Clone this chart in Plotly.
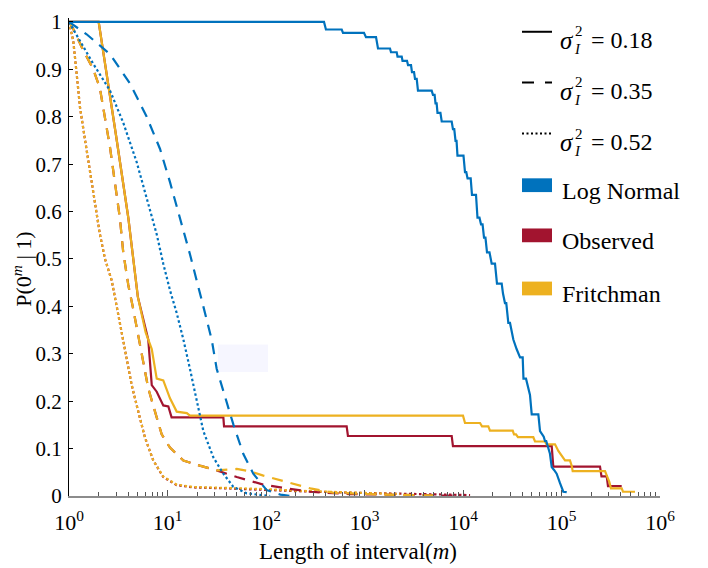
import plotly.graph_objects as go

# ---------------- data ----------------
# sigma_I^2 = 0.18 (solid)
lognormal_018_m = [1, 388, 406, 587, 605, 988, 1035, 1309, 1371, 1815, 1858, 2123, 2163, 2386, 2432, 2700,
                   2766, 2966, 3034, 3183, 3257, 3388, 3491, 4809, 4955, 5150, 5260, 5400, 5508, 5900, 6081,
                   7677, 7907, 8150, 8395, 8600, 8790, 10115, 10478, 10800, 11127, 11970, 12340, 13550, 14030,
                   14700, 15240, 15800, 16340, 16900, 17530, 18580, 19550, 21130, 22130, 24710, 25470, 26670,
                   27500, 28840, 30000, 32430, 35000, 37930, 40360, 41110, 43620, 47860, 49860, 58210, 60530,
                   66000, 67950, 70000, 76350, 79550, 84000, 89310, 96570, 104300, 112900]
lognormal_018_p = [1.0, 1.0, 0.984, 0.984, 0.977, 0.977, 0.968, 0.968, 0.944, 0.944, 0.936, 0.936, 0.927, 0.927,
                   0.918, 0.918, 0.909, 0.909, 0.894, 0.894, 0.880, 0.880, 0.855, 0.855, 0.846, 0.846, 0.828,
                   0.828, 0.808, 0.808, 0.790, 0.790, 0.774, 0.774, 0.749, 0.749, 0.718, 0.718, 0.683, 0.683,
                   0.670, 0.670, 0.635, 0.635, 0.587, 0.587, 0.573, 0.573, 0.545, 0.545, 0.514, 0.514, 0.490,
                   0.490, 0.448, 0.448, 0.427, 0.407, 0.407, 0.365, 0.365, 0.330, 0.310, 0.2925, 0.2925, 0.2475,
                   0.2475, 0.213, 0.172, 0.172, 0.137, 0.125, 0.116, 0.116, 0.089, 0.061, 0.055, 0.047, 0.027,
                   0.009, 0.008]

observed_018_m = [1, 2, 3, 4, 5, 6, 6.38, 6.92, 7.77, 9.06, 10.2, 11, 36.9, 37.5, 659, 679, 7677, 7907,
                  79550, 82530, 246000, 254700, 287700, 296500, 408400]
observed_018_p = [1.0, 1.0, 0.761, 0.587, 0.42, 0.35, 0.33, 0.234, 0.22, 0.191, 0.189, 0.166, 0.166, 0.147,
                  0.147, 0.1266, 0.1266, 0.105, 0.105, 0.062, 0.062, 0.0415, 0.0415, 0.021, 0.021]

fritchman_018_m = [1, 2, 3, 4, 5, 6, 6.92, 7.77, 9.06, 10.6, 12.4, 15.7, 16.9, 10000, 10480, 14890, 15590,
                   18070, 18790, 31970, 32960, 34500, 36140, 51730, 53830, 67950, 70440, 85920, 92850, 100400,
                   108600, 121900, 126900, 129900, 276700, 287700, 305800, 318000, 408400, 421000, 557400]
fritchman_018_p = [1.0, 1.0, 0.761, 0.587, 0.42, 0.345, 0.31, 0.2475, 0.244, 0.206, 0.178, 0.175, 0.1695,
                   0.1695, 0.154, 0.154, 0.147, 0.147, 0.138, 0.138, 0.130, 0.130, 0.124, 0.124, 0.115, 0.115,
                   0.109, 0.109, 0.095, 0.085, 0.075, 0.075, 0.064, 0.0525, 0.0525, 0.0436, 0.0297, 0.016,
                   0.016, 0.009, 0.009]

# sigma_I^2 = 0.35 (dashed)
lognormal_035_m = [1, 1.51, 2.61, 4.16, 6.15, 8.4, 10.6, 12.9, 16.9, 23.1, 28.1, 31.6, 36.9, 46.6, 58.9,
                   74.3, 101.6, 140, 174]
lognormal_035_p = [1.0, 0.974, 0.932, 0.87, 0.80, 0.732, 0.662, 0.60, 0.51, 0.40, 0.33, 0.268, 0.22, 0.151,
                   0.0885, 0.047, 0.0124, 0.003, 0.0]

observed_035_m = [1, 1.105, 1.397, 1.765, 2.06, 2.32, 2.61, 2.93, 3.29, 3.55, 4.0, 4.5, 5.05, 5.67, 6.38,
                  7.47, 8.73, 10.6, 14.5, 21.3, 31.6, 50.5, 94.0, 163.7, 281.6, 705, 2280, 9300]
observed_035_p = [1.0, 0.985, 0.94, 0.90, 0.86, 0.80, 0.735, 0.66, 0.585, 0.515, 0.445, 0.393, 0.337, 0.282,
                  0.227, 0.178, 0.13, 0.102, 0.075, 0.064, 0.054, 0.040, 0.024, 0.016, 0.009, 0.004, 0.002,
                  0.0005]

fritchman_035_m = [1, 1.105, 1.397, 1.765, 2.06, 2.32, 2.61, 2.93, 3.29, 3.55, 4.0, 4.5, 5.05, 5.67, 6.38,
                   7.47, 8.73, 10.6, 14.5, 21.3, 31.6, 50.5, 68.9, 94.0, 163.7, 281.6, 479, 1440, 5800]
fritchman_035_p = [1.0, 0.985, 0.94, 0.90, 0.86, 0.80, 0.735, 0.66, 0.585, 0.515, 0.445, 0.393, 0.337, 0.282,
                   0.227, 0.178, 0.13, 0.102, 0.075, 0.064, 0.054, 0.057, 0.052, 0.043, 0.030, 0.016, 0.007,
                   0.003, 0.001]

# sigma_I^2 = 0.52 (dotted)
lognormal_052_m = [1, 1.29, 1.77, 2.61, 3.56, 4.87, 6.15, 7.77, 9.06, 10.6, 12.4, 14.5, 16.9, 19.8, 23.1,
                   29.2, 36.9, 46.6, 63.7, 110]
lognormal_052_p = [1.0, 0.96, 0.911, 0.855, 0.787, 0.704, 0.628, 0.552, 0.49, 0.434, 0.386, 0.33, 0.268,
                   0.199, 0.137, 0.0815, 0.047, 0.0193, 0.0056, 0.0]

observed_052_m = [1, 1.105, 1.197, 1.293, 1.453, 1.633, 1.836, 2.06, 2.32, 2.71, 3.05, 3.43, 3.85, 4.33,
                  5.05, 5.91, 7.17, 9.06, 12.4, 18.3, 39.9, 87, 220, 707, 2300, 11800]
observed_052_p = [1.0, 0.96, 0.89, 0.82, 0.752, 0.683, 0.614, 0.552, 0.50, 0.455, 0.40, 0.344, 0.289, 0.234,
                  0.178, 0.123, 0.075, 0.040, 0.023, 0.018, 0.016, 0.013, 0.010, 0.007, 0.005, 0.002]

fritchman_052_m = [1, 1.105, 1.197, 1.293, 1.453, 1.633, 1.836, 2.06, 2.32, 2.71, 3.05, 3.43, 3.85, 4.33,
                   5.05, 5.91, 7.17, 9.06, 12.4, 18.3, 39.9, 87, 220, 707, 2300]
fritchman_052_p = [1.0, 0.96, 0.89, 0.82, 0.752, 0.683, 0.614, 0.552, 0.50, 0.455, 0.40, 0.344, 0.289, 0.234,
                   0.178, 0.123, 0.075, 0.041, 0.024, 0.019, 0.017, 0.015, 0.011, 0.007, 0.004]

x_tick_vals = [1, 10, 100, 1000, 10000, 100000, 1000000]
x_tick_text = ["10<sup>0</sup>", "10<sup>1</sup>", "10<sup>2</sup>", "10<sup>3</sup>",
               "10<sup>4</sup>", "10<sup>5</sup>", "10<sup>6</sup>"]
y_tick_vals = [0, 0.1, 0.2, 0.3, 0.4, 0.5, 0.6, 0.7, 0.8, 0.9, 1]
y_tick_text = ["0", "0.1", "0.2", "0.3", "0.4", "0.5", "0.6", "0.7", "0.8", "0.9", "1"]

variance_labels = ["0.18", "0.35", "0.52"]
model_names = ["Log Normal", "Observed", "Fritchman"]

# ---------------- style ----------------
BLUE = "#0072BD"
RED = "#A2142F"
YELLOW = "#EDB120"
FONT = "Liberation Serif"
DASH = "11px,8px"
DOT = "2.5px,2.5px"

OFF = 8                      # page body margin in the browser
W, H = 708 - OFF, 568 - OFF
L, T = 69 - OFF, 10 - OFF
PW, PH = 591, 486
R, B = W - L - PW, H - T - PH


def px(x):
    return (x - OFF - L) / PW


def py(y):
    return (T + PH - (y - OFF)) / PH


fig = go.Figure()


def add(xs, ys, color, dash, width):
    fig.add_trace(go.Scatter(x=xs, y=ys, mode="lines", showlegend=False, hoverinfo="skip",
                             line=dict(color=color, dash=dash, width=width)))


add(observed_052_m, observed_052_p, RED, DOT, 2.2)
add(fritchman_052_m, fritchman_052_p, YELLOW, DOT, 2.2)
add(observed_035_m, observed_035_p, RED, DASH, 2.2)
add(fritchman_035_m, fritchman_035_p, YELLOW, DASH, 2.2)
add(observed_018_m, observed_018_p, RED, "solid", 2.2)
add(fritchman_018_m, fritchman_018_p, YELLOW, "solid", 2.2)
add(lognormal_052_m, lognormal_052_p, BLUE, DOT, 2.2)
add(lognormal_035_m, lognormal_035_p, BLUE, DASH, 2.2)
add(lognormal_018_m, lognormal_018_p, BLUE, "solid", 2.2)

shapes = []
annotations = []

# faint artefact rectangle
shapes.append(dict(type="rect", xref="paper", yref="paper", x0=px(218), x1=px(268), y0=py(370), y1=py(342),
                   line=dict(width=0), fillcolor="rgba(244,244,255,0.8)", layer="below"))

# legend: line-style entries
line_y = [24, 75.5, 127.5]
text_y = [32.5, 84.5, 136.5]
dashes = ["solid", "12px,11px", "2px,2.5px"]
for ly, ty, d, v in zip(line_y, text_y, dashes, variance_labels):
    shapes.append(dict(type="line", xref="paper", yref="paper", x0=px(522), x1=px(552), y0=py(ly), y1=py(ly),
                       line=dict(color="black", width=2, dash=d)))
    annotations.append(dict(xref="paper", yref="paper", x=px(558), y=py(ty), xanchor="left", yanchor="middle",
                            text="<i>σ</i>", showarrow=False, font=dict(family=FONT, size=25, color="black")))
    annotations.append(dict(xref="paper", yref="paper", x=px(573), y=py(ty - 9), xanchor="left",
                            yanchor="middle", text="2", showarrow=False,
                            font=dict(family=FONT, size=15, color="black")))
    annotations.append(dict(xref="paper", yref="paper", x=px(572), y=py(ty + 9), xanchor="left",
                            yanchor="middle", text="<i>I</i>", showarrow=False,
                            font=dict(family=FONT, size=15, color="black")))
    annotations.append(dict(xref="paper", yref="paper", x=px(589), y=py(ty), xanchor="left", yanchor="middle",
                            text="= " + v, showarrow=False, font=dict(family=FONT, size=24, color="black")))

# legend: colour entries
box_y = [180, 231, 285]
for by, c, name in zip(box_y, [BLUE, RED, YELLOW], model_names):
    shapes.append(dict(type="rect", xref="paper", yref="paper", x0=px(522), x1=px(552), y0=py(by + 7),
                       y1=py(by - 7), line=dict(width=0), fillcolor=c))
    annotations.append(dict(xref="paper", yref="paper", x=px(560), y=py(by + 6), xanchor="left",
                            yanchor="middle", text=name, showarrow=False,
                            font=dict(family=FONT, size=24, color="black")))

# axis titles
annotations.append(dict(xref="paper", yref="paper", x=px(358), y=py(552), xanchor="center", yanchor="middle",
                        text="Length of interval(<i>m</i>)", showarrow=False,
                        font=dict(family=FONT, size=23, color="black")))
annotations.append(dict(xref="paper", yref="paper", x=px(22), y=py(266), xanchor="center", yanchor="middle",
                        text="P(0<sup><i>m</i></sup> | 1)", textangle=-90, showarrow=False,
                        font=dict(family=FONT, size=22, color="black")))

fig.update_layout(
    width=W, height=H,
    margin=dict(l=L, r=R, t=T, b=B, pad=0),
    paper_bgcolor="white", plot_bgcolor="white",
    font=dict(family=FONT, size=21, color="black"),
    shapes=shapes, annotations=annotations,
    showlegend=False,
)
fig.update_xaxes(type="log", range=[0, 6], tickmode="array", tickvals=x_tick_vals, ticktext=x_tick_text,
                 ticks="inside", ticklen=6, tickwidth=1, tickcolor="#555555",
                 showline=True, linecolor="#8c8c8c", linewidth=2, showgrid=False, zeroline=False,
                 tickfont=dict(family=FONT, size=22, color="black"), ticklabelstandoff=6,
                 minor=dict(ticks="inside", ticklen=4, tickcolor="#555555", tickwidth=1, dtick="D1",
                            showgrid=False))
fig.update_yaxes(range=[0, PH / 482], tickmode="array", tickvals=y_tick_vals, ticktext=y_tick_text,
                 ticks="inside", ticklen=4, tickcolor="black", showline=True, linecolor="black", linewidth=1,
                 showgrid=False, zeroline=False, tickfont=dict(family=FONT, size=21, color="black"),
                 ticklabelstandoff=2, ticklabeloverflow="allow")

fig.write_html("out.html")
